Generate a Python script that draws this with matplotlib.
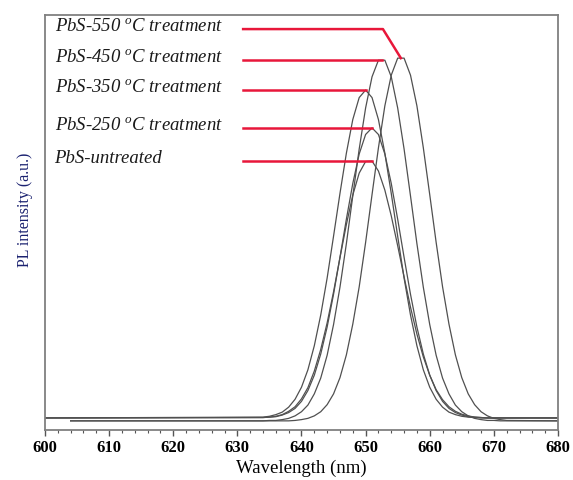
import numpy as np
import matplotlib
matplotlib.use("Agg")
import matplotlib.pyplot as plt
from matplotlib.ticker import MultipleLocator

plt.rcParams['font.family'] = 'Liberation Serif'
plt.rcParams['mathtext.fontset'] = 'custom'
plt.rcParams['mathtext.rm'] = 'Liberation Serif'
plt.rcParams['mathtext.it'] = 'Liberation Serif:italic'

# PL-Spektren, Raster 634..672 nm
wl = np.arange(634, 673)

untreated = [0.030, 0.031, 0.033, 0.037, 0.045, 0.056, 0.075, 0.102, 0.142, 0.194,
             0.258, 0.333, 0.415, 0.495, 0.566, 0.619, 0.647, 0.648, 0.624, 0.578,
             0.516, 0.444, 0.369, 0.296, 0.231, 0.176, 0.132, 0.097, 0.073, 0.056,
             0.045, 0.038, 0.034, 0.031, 0.030, 0.029, 0.029, 0.029, 0.029]
t250 = [0.030, 0.031, 0.032, 0.036, 0.042, 0.052, 0.069, 0.095, 0.132, 0.183,
        0.248, 0.327, 0.416, 0.508, 0.594, 0.665, 0.712, 0.728, 0.712, 0.665,
        0.594, 0.508, 0.416, 0.327, 0.248, 0.183, 0.132, 0.095, 0.069, 0.052,
        0.042, 0.036, 0.032, 0.031, 0.030, 0.029, 0.029, 0.029, 0.029]
t350 = [0.031, 0.033, 0.037, 0.043, 0.055, 0.074, 0.103, 0.145, 0.203, 0.277,
        0.366, 0.467, 0.570, 0.667, 0.748, 0.801, 0.819, 0.801, 0.748, 0.667,
        0.570, 0.467, 0.366, 0.277, 0.203, 0.145, 0.103, 0.074, 0.055, 0.043,
        0.037, 0.033, 0.031, 0.030, 0.029, 0.029, 0.029, 0.029, 0.029]
t450 = [0.022, 0.023, 0.023, 0.025, 0.028, 0.034, 0.044, 0.060, 0.087, 0.125,
        0.180, 0.254, 0.344, 0.449, 0.564, 0.677, 0.776, 0.851, 0.891, 0.891,
        0.851, 0.776, 0.677, 0.564, 0.449, 0.344, 0.254, 0.180, 0.125, 0.087,
        0.060, 0.044, 0.034, 0.028, 0.025, 0.023, 0.023, 0.022, 0.022]
t550 = [0.022, 0.022, 0.022, 0.022, 0.022, 0.023, 0.025, 0.028, 0.034, 0.044,
        0.061, 0.087, 0.126, 0.181, 0.255, 0.345, 0.452, 0.567, 0.680, 0.781,
        0.855, 0.896, 0.896, 0.855, 0.781, 0.680, 0.567, 0.452, 0.345, 0.255,
        0.181, 0.126, 0.087, 0.061, 0.044, 0.034, 0.028, 0.025, 0.023]

# Startwellenlaenge und Grundlinie je Kurve
starts = [600, 600, 600, 604, 604]
baselines = [0.029, 0.029, 0.029, 0.022, 0.022]
series = [untreated, t250, t350, t450, t550]
labels = ['PbS-untreated',
          'PbS-250 $^{o}$C treatment',
          'PbS-350 $^{o}$C treatment',
          'PbS-450 $^{o}$C treatment',
          'PbS-550 $^{o}$C treatment']

fig = plt.figure(figsize=(5.73, 4.8), dpi=100)
ax = fig.add_axes([0.0785, 0.1042, 0.8953, 0.8646])

for y, x0, b in zip(series, starts, baselines):
    xs = np.concatenate([[x0], wl, [680]])
    ys = np.concatenate([[b], y, [b]])
    ax.plot(xs, ys, color='#505050', lw=0.9, solid_joinstyle='round')

# Beschriftungen mit roten Hinweislinien
red = '#e8173a'
x_start = 630.9
for y, lab in zip(series, labels):
    i = int(np.argmax(y))
    px = wl[i] + (0.5 if y[i] == y[i + 1] else 0.0)
    py = max(y)
    if lab.startswith('PbS-550'):
        ly = 0.966
        ax.plot([x_start, 652.7, px], [ly, ly, py], color=red, lw=1.8)
    else:
        ly = py
        ax.plot([x_start, px], [ly, ly], color=red, lw=1.8)
    ax.text(601.5, ly + 0.006, lab, fontsize=13.5, style='italic',
            ha='left', va='center', color='#1a1a1a')

ax.set_xlim(600, 680)
ax.set_ylim(0, 1)
ax.xaxis.set_major_locator(MultipleLocator(10))
ax.xaxis.set_minor_locator(MultipleLocator(2))
ax.set_yticks([])
ax.tick_params(axis='x', which='major', direction='out', length=4, width=1, pad=3,
               color='#555555', labelsize=12)
ax.tick_params(axis='x', which='minor', direction='out', length=2.5, width=0.8,
               color='#555555')
for lbl in ax.get_xticklabels():
    lbl.set_fontweight('bold')
for sp in ax.spines.values():
    sp.set_color('#808080')
    sp.set_linewidth(1.3)

ax.set_xlabel('Wavelength (nm)', fontsize=13.5, labelpad=3)
ax.set_ylabel('PL intensity (a.u.)', fontsize=11.5, color='#1a2170')
ax.yaxis.set_label_coords(-0.024, 0.53)

fig.savefig('out.png', dpi=100)
